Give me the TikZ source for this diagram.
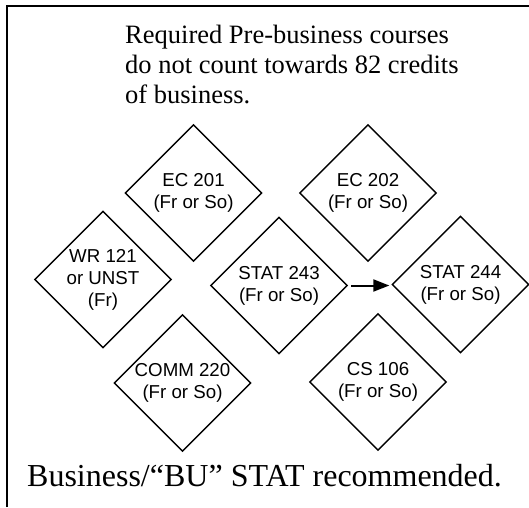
\documentclass[tikz,border=0pt]{standalone}
\usepackage{fontspec}
\setmainfont{Liberation Serif}
\setsansfont{Liberation Sans}
\usetikzlibrary{shapes.geometric,arrows.meta}
\begin{document}
\begin{tikzpicture}[x=1pt,y=-1pt,
  course/.style={draw,diamond,minimum size=137pt,inner sep=0pt,line width=1.4pt},
  ctext/.style={align=center,inner sep=0pt,font=\sffamily\fontsize{18.7}{22}\selectfont},
  frameline/.style={line width=2pt}]
\useasboundingbox (0,0) rectangle (529,507);
\coordinate (fa) at (7,507);
\coordinate (fb) at (7,6);
\coordinate (fc) at (529,6);
\draw[frameline] (fa) -- (fb) -- (fc);
\node[anchor=north west,inner sep=0pt,align=left,font=\fontsize{26.5}{30}\selectfont] (title) at (125,25)
  {Required Pre-business courses\\do not count towards 82 credits\\of business.};
\node[course] (e201) at (193.5,193) {};
\node[ctext] (e201t) at (e201) {EC 201\\(Fr or So)};
\node[course] (e202) at (368,193) {};
\node[ctext] (e202t) at (e202) {EC 202\\(Fr or So)};
\node[course] (wr) at (103,279.5) {};
\node[ctext] (wrt) at (wr) {WR 121\\or UNST\\(Fr)};
\node[course] (s243) at (279,285.5) {};
\node[ctext] (s243t) at (s243) {STAT 243\\(Fr or So)};
\node[course] (s244) at (460.5,284.5) {};
\node[ctext] (s244t) at (s244) {STAT 244\\(Fr or So)};
\node[course] (comm) at (182.5,383) {};
\node[ctext] (commt) at (comm) {COMM 220\\(Fr or So)};
\node[course] (cs) at (378,382) {};
\node[ctext] (cst) at (cs) {CS 106\\(Fr or So)};
\draw[line width=2pt,-{Triangle[length=16pt,width=12pt]},shorten <=3pt,shorten >=2pt]
  (s243.east) -- (s243.east -| s244.west);
\node[anchor=base west,inner sep=0pt,font=\fontsize{32}{38}\selectfont] (note) at (27,486)
  {Business/“BU” STAT recommended.};
\end{tikzpicture}
\end{document}
